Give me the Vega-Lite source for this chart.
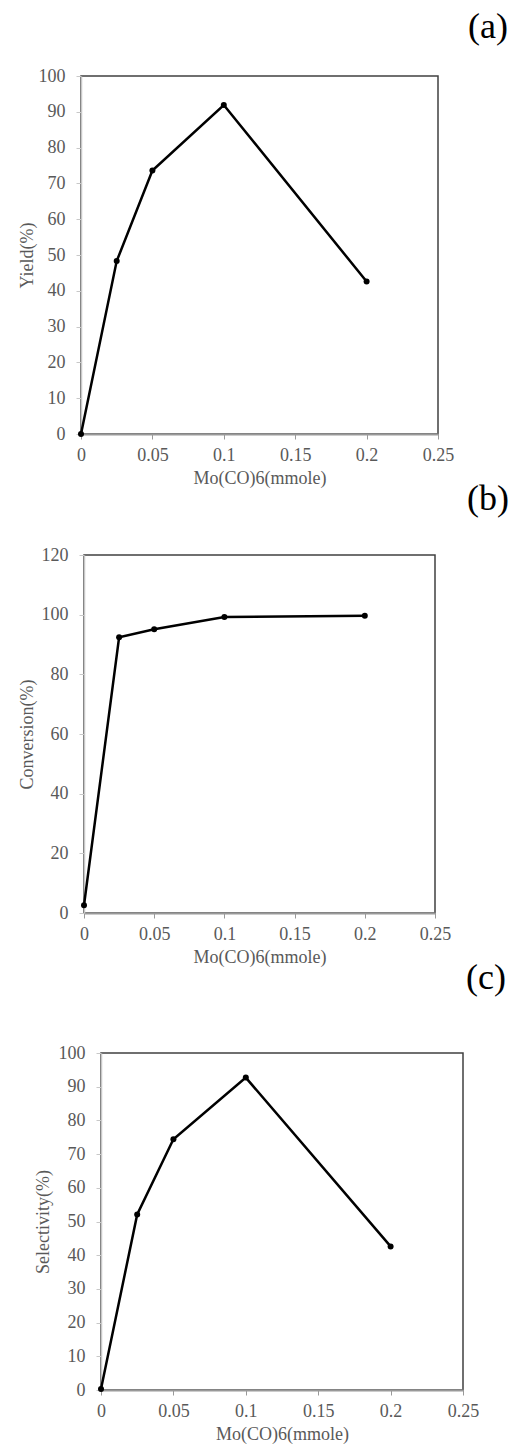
{
  "$schema": "https://vega.github.io/schema/vega-lite/v6.json",
  "padding": {"left": 0, "top": 8, "right": 0, "bottom": 0},
  "background": "white",
  "spacing": -8,
  "config": {
    "font": "Liberation Serif",
    "view": {"stroke": "#404040", "strokeWidth": 1.5},
    "axis": {"labelFont": "Liberation Serif", "titleFont": "Liberation Serif", "labelFontSize": 18, "titleFontSize": 18, "labelColor": "#595959", "titleColor": "#595959", "titleFontWeight": "normal", "grid": false, "tickSize": 5, "zindex": 1},
    "axisX": {"domainColor": "#999999", "tickColor": "#999999", "domainWidth": 2, "labelPadding": 7, "titlePadding": 5, "labelFlush": false, "labelOverlap": false},
    "axisY": {"domainColor": "#c8c8c8", "tickColor": "#c8c8c8", "domainWidth": 1.5, "labelPadding": 11, "labelOverlap": false},
    "title": {"font": "Liberation Serif", "fontSize": 36, "fontWeight": "normal", "color": "black", "anchor": "end", "baseline": "alphabetic", "frame": "group"}
  },
  "vconcat": [
    {
      "spacing": 0,
      "hconcat": [
        {"width": 17, "height": 1, "view": {"stroke": null}, "data": {"values": []}, "mark": "point", "encoding": {}},
        {
          "width": 357, "height": 358,
          "title": {"text": "(a)", "dx": 70, "offset": 21},
          "data": {"values": [
            {"mmol": 0, "value": 0},
            {"mmol": 0.025, "value": 48.3},
            {"mmol": 0.05, "value": 73.6},
            {"mmol": 0.1, "value": 91.9},
            {"mmol": 0.2, "value": 42.6}
          ]},
          "mark": {"type": "line", "color": "black", "strokeWidth": 2.5, "point": {"filled": true, "color": "black", "size": 36}},
          "encoding": {
            "x": {"field": "mmol", "type": "quantitative", "scale": {"domain": [0, 0.25], "nice": false}, "axis": {"values": [0, 0.05, 0.1, 0.15, 0.2, 0.25], "format": "~g", "title": "Mo(CO)6(mmole)"}},
            "y": {"field": "value", "type": "quantitative", "scale": {"domain": [0, 100], "nice": false}, "axis": {"values": [0, 10, 20, 30, 40, 50, 60, 70, 80, 90, 100], "title": "Yield(%)", "titlePadding": 2}}
          }
        }
      ]
    },
    {
      "spacing": 0,
      "hconcat": [
        {"width": 17, "height": 1, "view": {"stroke": null}, "data": {"values": []}, "mark": "point", "encoding": {}},
        {
          "width": 351, "height": 358,
          "title": {"text": "(b)", "dx": 74, "offset": 28},
          "data": {"values": [
            {"mmol": 0, "value": 2.6},
            {"mmol": 0.025, "value": 92.4},
            {"mmol": 0.05, "value": 95.1},
            {"mmol": 0.1, "value": 99.2},
            {"mmol": 0.2, "value": 99.6}
          ]},
          "mark": {"type": "line", "color": "black", "strokeWidth": 2.5, "point": {"filled": true, "color": "black", "size": 36}},
          "encoding": {
            "x": {"field": "mmol", "type": "quantitative", "scale": {"domain": [0, 0.25], "nice": false}, "axis": {"values": [0, 0.05, 0.1, 0.15, 0.2, 0.25], "format": "~g", "title": "Mo(CO)6(mmole)"}},
            "y": {"field": "value", "type": "quantitative", "scale": {"domain": [0, 120], "nice": false}, "axis": {"values": [0, 20, 40, 60, 80, 100, 120], "title": "Conversion(%)", "titlePadding": 5}}
          }
        }
      ]
    },
    {
      "spacing": 0,
      "hconcat": [
        {"width": 33, "height": 1, "view": {"stroke": null}, "data": {"values": []}, "mark": "point", "encoding": {}},
        {
          "width": 362, "height": 337,
          "title": {"text": "(c)", "dx": 43, "offset": 47},
          "data": {"values": [
            {"mmol": 0, "value": 0.3},
            {"mmol": 0.025, "value": 52.1},
            {"mmol": 0.05, "value": 74.4},
            {"mmol": 0.1, "value": 92.7},
            {"mmol": 0.2, "value": 42.6}
          ]},
          "mark": {"type": "line", "color": "black", "strokeWidth": 2.5, "point": {"filled": true, "color": "black", "size": 36}},
          "encoding": {
            "x": {"field": "mmol", "type": "quantitative", "scale": {"domain": [0, 0.25], "nice": false}, "axis": {"values": [0, 0.05, 0.1, 0.15, 0.2, 0.25], "format": "~g", "title": "Mo(CO)6(mmole)"}},
            "y": {"field": "value", "type": "quantitative", "scale": {"domain": [0, 100], "nice": false}, "axis": {"values": [0, 10, 20, 30, 40, 50, 60, 70, 80, 90, 100], "title": "Selectivity(%)", "titlePadding": 6}}
          }
        }
      ]
    }
  ]
}
